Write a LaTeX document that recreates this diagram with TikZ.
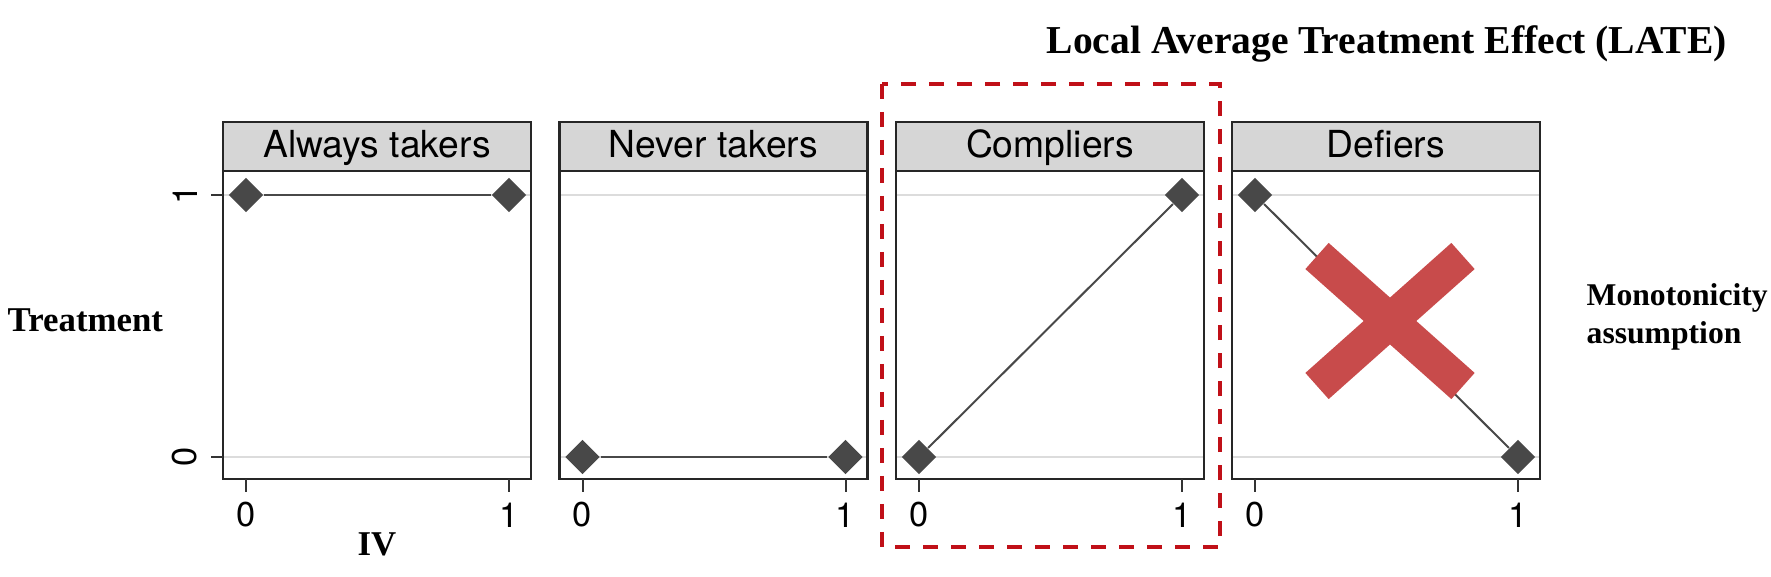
\documentclass[tikz,border=0pt]{standalone}
\usepackage{fontspec}
\setmainfont{Liberation Serif}
\newfontfamily\helv{TeX Gyre Heros}
\usetikzlibrary{shapes.geometric}
\definecolor{stripgray}{RGB}{214,214,214}
\definecolor{markgray}{RGB}{72,72,72}
\definecolor{gridgray}{RGB}{220,220,220}
\definecolor{latered}{RGB}{192,16,24}
\definecolor{crossred}{RGB}{200,75,75}
\tikzset{
  frame/.style={draw=black!85, line width=0.27mm},
  strip/.style={draw=black!85, fill=stripgray, line width=0.27mm,
    minimum width=30.8mm, minimum height=4.9mm, inner sep=0pt,
    text height=2.6mm, text depth=0.3mm,
    font=\helv\fontsize{10.6}{12}\selectfont},
  gridln/.style={draw=gridgray, line width=0.2mm},
  dot/.style={diamond, fill=markgray, inner sep=0pt, minimum size=3.5mm},
  link/.style={draw=markgray, line width=0.2mm},
  tck/.style={draw=black!80, line width=0.2mm},
  num/.style={inner sep=0pt, font=\helv\fontsize{9.8}{11}\selectfont},
  lbl/.style={inner sep=0pt, font=\bfseries\fontsize{9.9}{12}\selectfont},
  late/.style={draw=latered, line width=0.35mm, dash pattern=on 1.5mm off 1.3mm},
  cross/.style={draw=crossred, line width=3.5mm}
}

\begin{document}
\begin{tikzpicture}[x=0.1mm, y=-0.1mm]
  \useasboundingbox (0,0) rectangle (1771,577);

  % Always takers
  \draw[gridln] (223,195) -- (531,195);
  \draw[gridln] (223,457) -- (531,457);
  \draw[frame] (223,171) rectangle (531,479);
  \node[strip] (hA) at (377,146.5) {Always takers};
  \node[dot] (a0) at (246,195) {};
  \node[dot] (a1) at (509,195) {};
  \draw[link] (a0) -- (a1);
  \draw[tck] (246,479) -- (246,492);
  \draw[tck] (509,479) -- (509,492);
  \node[num] (xa0) at (246,515) {0};
  \node[num] (xa1) at (509,515) {1};

  % y axis
  \draw[tck] (211,195) -- (223,195);
  \draw[tck] (211,457) -- (223,457);
  \node[num, rotate=90] (y1) at (185,195) {1};
  \node[num, rotate=90] (y0) at (185,457) {0};

  % Never takers
  \draw[gridln] (559.5,195) -- (867.5,195);
  \draw[gridln] (559.5,457) -- (867.5,457);
  \draw[frame] (559.5,171) rectangle (867.5,479);
  \node[strip] (hN) at (713.5,146.5) {Never takers};
  \node[dot] (n0) at (582.5,457) {};
  \node[dot] (n1) at (845.5,457) {};
  \draw[link] (n0) -- (n1);
  \draw[tck] (582.5,479) -- (582.5,492);
  \draw[tck] (845.5,479) -- (845.5,492);
  \node[num] (xn0) at (582.5,515) {0};
  \node[num] (xn1) at (845.5,515) {1};

  % Compliers
  \draw[gridln] (896,195) -- (1204,195);
  \draw[gridln] (896,457) -- (1204,457);
  \draw[frame] (896,171) rectangle (1204,479);
  \node[strip] (hC) at (1050,146.5) {Compliers};
  \node[dot] (c0) at (919,457) {};
  \node[dot] (c1) at (1182,195) {};
  \draw[link] (c0) -- (c1);
  \draw[tck] (919,479) -- (919,492);
  \draw[tck] (1182,479) -- (1182,492);
  \node[num] (xc0) at (919,515) {0};
  \node[num] (xc1) at (1182,515) {1};

  % Defiers
  \draw[gridln] (1232,195) -- (1540,195);
  \draw[gridln] (1232,457) -- (1540,457);
  \draw[frame] (1232,171) rectangle (1540,479);
  \node[strip] (hD) at (1386,146.5) {Defiers};
  \node[dot] (d0) at (1255,195) {};
  \node[dot] (d1) at (1518,457) {};
  \draw[link] (d0) -- (d1);
  \draw[tck] (1255,479) -- (1255,492);
  \draw[tck] (1518,479) -- (1518,492);
  \node[num] (xd0) at (1255,515) {0};
  \node[num] (xd1) at (1518,515) {1};

  % Monotonicity rules the defiers out
  \draw[cross] (1317,256) -- (1463,386);
  \draw[cross] (1463,256) -- (1317,386);

  % LATE box round the compliers
  \draw[late] (882,84) rectangle (1220,547);

  \node[lbl, anchor=base west, font=\bfseries\fontsize{11.25}{13}\selectfont]
    (title) at (1046,54) {Local Average Treatment Effect (LATE)};
  \node[lbl, anchor=base west] (treat) at (7,331) {Treatment};
  \node[lbl, anchor=base] (iv) at (377,555) {IV};
  \node[lbl, anchor=base west, font=\bfseries\fontsize{9}{11}\selectfont]
    (mono) at (1586,305) {Monotonicity};
  \node[lbl, anchor=base west, font=\bfseries\fontsize{9}{11}\selectfont]
    (assum) at (1586,343) {assumption};
\end{tikzpicture}
\end{document}
